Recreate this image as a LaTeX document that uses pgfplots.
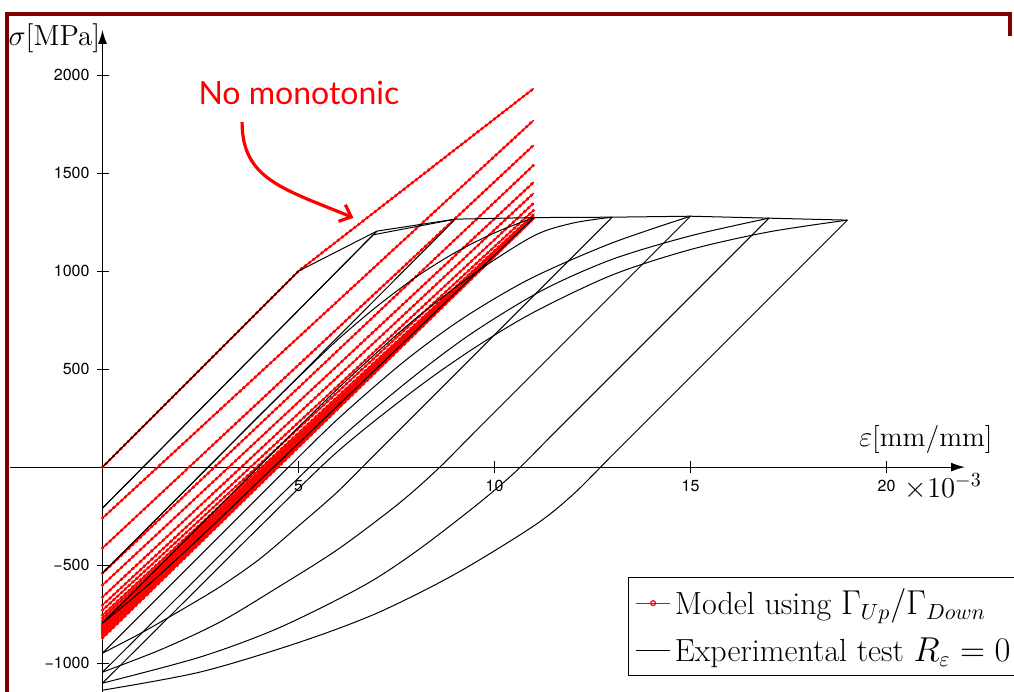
\documentclass[border=0pt]{standalone}
\usepackage{fontspec}
\usepackage{pgfplots}
\pgfplotsset{compat=1.18}
\usetikzlibrary{arrows.meta}
\newfontfamily\heros{TeX Gyre Heros}
\newfontfamily\lato{Lato}
\definecolor{framered}{RGB}{128,0,0}

\pgfplotsset{
  model/.style={red, line width=0.7pt, forget plot,
    postaction={draw=red, line width=1.8pt, line cap=round, dash pattern=on 0pt off 2.6pt}},
  expt/.style={black, line width=0.5pt, forget plot},
  exptc/.style={black, line width=0.5pt, forget plot, smooth, tension=0.5},
}

\begin{document}
\begin{tikzpicture}
\begin{axis}[
  x=19.6pt, y=0.098pt,
  axis lines=middle,
  xmin=-2.36, xmax=22.0, ymin=-1300, ymax=2230,
  axis line style={line width=0.6pt, -{Latex[length=7pt,width=4.5pt]}},
  tick align=center, major tick length=6pt,
  tick style={black, line width=0.5pt},
  xtick={5,10,15,20}, xticklabels={5,10,15,20},
  ytick={-1000,-500,500,1000,1500,2000},
  yticklabels={−1000,−500,500,1000,1500,2000},
  ticklabel style={font=\heros\fontsize{8}{9}\selectfont},
  clip=false,
  xlabel={$\varepsilon$[mm/mm]}, ylabel={$\sigma$[MPa]},
  every axis x label/.style={at={(axis cs:21,140)}, anchor=center, font=\fontsize{14}{16}\selectfont},
  every axis y label/.style={at={(axis cs:-0.05,2189)}, anchor=east, inner sep=0pt, font=\fontsize{14.5}{16}\selectfont},
  legend style={at={(axis cs:13.4,-561)}, anchor=north west, draw=black, line width=0.6pt,
    font=\fontsize{16}{18}\selectfont, row sep=6pt, inner sep=3.5pt, legend cell align=left},
]
\addlegendimage{red, line width=0.6pt, mark=o, mark size=1.2pt}
\addlegendimage{black, line width=0.5pt}

% model (red)
\addplot[model] coordinates {(0,0)(5,1000)(11,1932)};
\addplot[model] coordinates {(0,-260)(11,1770)};
\addplot[model] coordinates {(0,-413)(11,1643)};
\addplot[model] coordinates {(0,-541)(11,1541)};
\addplot[model] coordinates {(0,-602)(11,1454)};
\addplot[model] coordinates {(0,-663)(11,1398)};
\addplot[model] coordinates {(0,-704)(11,1347)};
\addplot[model] coordinates {(0,-730)(11,1311)};
\addplot[model] coordinates {(0,-755)(11,1290)};
\addplot[model] coordinates {(0,-770)(11,1280)};
\addplot[model] coordinates {(0,-784)(11,1278)};
\addplot[model] coordinates {(0,-796)(11,1277)};
\addplot[model] coordinates {(0,-804)(11,1276)};
\addplot[model] coordinates {(0,-812)(11,1275)};
\addplot[model] coordinates {(0,-820)(11,1274)};
\addplot[model] coordinates {(0,-828)(11,1274)};
\addplot[model] coordinates {(0,-836)(11,1273)};
\addplot[model] coordinates {(0,-844)(11,1272)};
\addplot[model] coordinates {(0,-852)(11,1272)};
\addplot[model] coordinates {(0,-862)(11,1271)};
\addplot[model] coordinates {(0,-872)(11,1270)};

% experimental test (black)
\addplot[expt] coordinates {(0,0)(5,1000)(7,1204)(9,1265)(11,1273)(13,1275)(15,1280)(17,1270)(19,1260)};
\addplot[expt] coordinates {(7,1204)(0,-209)};
\addplot[expt] coordinates {(0,-209)(6.9,1185)(9,1265)};
\addplot[expt] coordinates {(9,1265)(0,-541)};
\addplot[exptc] coordinates {(0,-541)(1,-340)(2,-139)(3,62)(4,263)(5,459)(6,650)(7,820)(8,970)(9,1095)(10,1195)(11,1273)};
\addplot[exptc] coordinates {(11,1273)(9,889)(7,505)(5,121)(4,-70)(3,-262)(2,-450)(1,-630)(0,-796)};
\addplot[exptc] coordinates {(0,-796)(1,-596)(2,-396)(3,-196)(4,4)(5,204)(6,400)(7,585)(8,760)(9.5,990)(11,1180)(12,1245)(13,1275)};
\addplot[exptc] coordinates {(13,1275)(11,875)(9,475)(7,75)(6,-125)(5,-300)(4,-470)(3,-610)(2,-730)(1,-845)(0,-949)};
\addplot[exptc] coordinates {(0,-949)(1.5,-649)(3,-349)(4.5,-49)(6,245)(7.7,540)(9.2,760)(10.9,960)(12.95,1140)(15,1280)};
\addplot[exptc] coordinates {(15,1280)(13,880)(11,480)(9.5,180)(8.5,-20)(7.5,-195)(6,-420)(4.5,-610)(3,-790)(1.5,-930)(0,-1046)};
\addplot[exptc] coordinates {(0,-1046)(2,-648)(4,-250)(6,135)(7.8,440)(9.4,680)(11.2,900)(13,1060)(15,1180)(17,1270)};
\addplot[exptc] coordinates {(17,1270)(15,870)(13,470)(11.5,170)(10.5,-30)(9.5,-200)(8,-430)(6.65,-606)(4.5,-820)(2.49,-969)(0,-1102)};
\addplot[exptc] coordinates {(0,-1102)(2,-704)(4,-306)(6,80)(8,400)(9.5,610)(11,790)(13,980)(15,1110)(17,1200)(19,1260)};
\addplot[exptc] coordinates {(19,1260)(17,860)(15,460)(13,60)(12,-140)(11,-300)(9,-545)(7,-745)(5,-895)(2.5,-1045)(0,-1138)};

\legend{Model using $\Gamma_{Up}/\Gamma_{Down}$, Experimental test $R_\varepsilon=0$}

% annotation
\node[red, font=\lato\fontsize{16}{18}\selectfont] at (axis cs:5.01,1908) {No monotonic};
\draw[red, line width=1.6pt, -{Straight Barb[length=5pt,width=9pt]}]
  (axis cs:3.56,1760) .. controls (axis cs:3.56,1470) and (axis cs:4.6,1420) .. (axis cs:6.4,1272);
\node[anchor=west, inner sep=0pt, font=\fontsize{14}{16}\selectfont] at (axis cs:20.45,-100) {$\times10^{-3}$};

% slide frame and page box
\draw[framered, line width=2pt] (axis cs:-2.449,-1300) -- (axis cs:-2.449,2314) -- (axis cs:23.15,2314) -- (axis cs:23.15,2200);
\coordinate (pTL) at (axis cs:-2.615,2383);
\coordinate (pBR) at (axis cs:23.25,-1143);
\end{axis}
\pgfresetboundingbox
\useasboundingbox (pTL) rectangle (pBR);
\end{tikzpicture}
\end{document}
